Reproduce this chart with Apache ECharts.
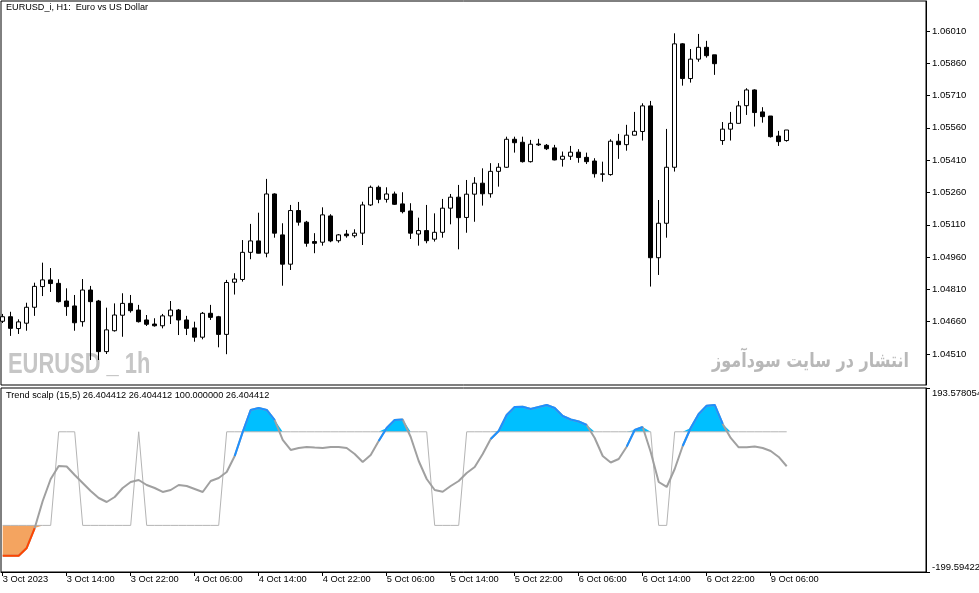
<!DOCTYPE html>
<html><head><meta charset="utf-8">
<script src="https://cdn.jsdelivr.net/npm/echarts@6/dist/echarts.min.js"></script>
<style>html,body{margin:0;padding:0;background:#fff}#c{width:979px;height:593px}</style>
</head><body><div id="c"></div>
<script>
const timeLabels = ["3 Oct 2023","3 Oct 14:00","3 Oct 22:00","4 Oct 06:00","4 Oct 14:00","4 Oct 22:00","5 Oct 06:00","5 Oct 14:00","5 Oct 22:00","6 Oct 06:00","6 Oct 14:00","6 Oct 22:00","9 Oct 06:00"];
const timeLabelIdx = [0,8,16,24,32,40,48,56,64,72,80,88,96];
const priceTicks = [1.04510,1.04660,1.04810,1.04960,1.05110,1.05260,1.05410,1.05560,1.05710,1.05860,1.06010];

const opens = [1.04662,1.04683,1.04628,1.04653,1.04727,1.04823,1.04854,1.04838,1.04756,1.04733,1.04660,1.04807,1.04756,1.04521,1.04618,1.04690,1.04745,1.04714,1.04668,1.04649,1.04641,1.04687,1.04714,1.04668,1.04631,1.04588,1.04699,1.04683,1.04601,1.04843,1.04856,1.04982,1.05035,1.04978,1.05253,1.05063,1.04927,1.05176,1.05122,1.05032,1.05029,1.05151,1.05036,1.05067,1.05059,1.05071,1.05202,1.05284,1.05228,1.05253,1.05207,1.05174,1.05067,1.05083,1.05043,1.05075,1.05187,1.05238,1.05144,1.05252,1.05303,1.05254,1.05358,1.05377,1.05507,1.05493,1.05403,1.05485,1.05479,1.05467,1.05414,1.05428,1.05447,1.05423,1.05406,1.05346,1.05343,1.05498,1.05482,1.05526,1.05543,1.05662,1.04957,1.05117,1.05377,1.05950,1.05789,1.05879,1.05934,1.05899,1.05501,1.05554,1.05581,1.05663,1.05736,1.05634,1.05615,1.05522,1.05501];
const closes = [1.04683,1.04629,1.04659,1.04727,1.04824,1.04854,1.04837,1.04753,1.04730,1.04655,1.04807,1.04753,1.04521,1.04622,1.04691,1.04745,1.04711,1.04660,1.04648,1.04641,1.04687,1.04714,1.04668,1.04629,1.04588,1.04699,1.04680,1.04601,1.04842,1.04858,1.04982,1.05035,1.04978,1.05253,1.05071,1.04927,1.05176,1.05122,1.05024,1.05024,1.05156,1.05035,1.05063,1.05059,1.05071,1.05202,1.05284,1.05228,1.05253,1.05205,1.05171,1.05071,1.05083,1.05036,1.05075,1.05187,1.05238,1.05143,1.05252,1.05303,1.05254,1.05358,1.05377,1.05507,1.05491,1.05403,1.05484,1.05481,1.05463,1.05411,1.05428,1.05447,1.05422,1.05403,1.05347,1.05345,1.05498,1.05482,1.05526,1.05544,1.05662,1.04957,1.05117,1.05377,1.05950,1.05789,1.05879,1.05934,1.05895,1.05858,1.05554,1.05581,1.05662,1.05736,1.05631,1.05612,1.05519,1.05496,1.05550];
const highs = [1.04696,1.04706,1.04671,1.04748,1.04841,1.04934,1.04909,1.04857,1.04815,1.04784,1.04858,1.04826,1.04761,1.04725,1.04745,1.04792,1.04784,1.04738,1.04691,1.04676,1.04696,1.04756,1.04719,1.04687,1.04660,1.04705,1.04738,1.04687,1.04854,1.04885,1.05039,1.05114,1.05166,1.05323,1.05256,1.05117,1.05202,1.05216,1.05128,1.05071,1.05191,1.05159,1.05067,1.05086,1.05089,1.05217,1.05292,1.05292,1.05284,1.05264,1.05261,1.05210,1.05143,1.05202,1.05163,1.05230,1.05253,1.05295,1.05318,1.05331,1.05372,1.05396,1.05396,1.05519,1.05519,1.05519,1.05504,1.05509,1.05485,1.05481,1.05450,1.05476,1.05461,1.05445,1.05419,1.05403,1.05507,1.05532,1.05574,1.05634,1.05674,1.05685,1.05225,1.05555,1.05999,1.05953,1.05926,1.05996,1.05964,1.05899,1.05587,1.05634,1.05685,1.05744,1.05739,1.05656,1.05615,1.05546,1.05550];
const lows = [1.04654,1.04594,1.04603,1.04618,1.04687,1.04779,1.04798,1.04749,1.04687,1.04618,1.04637,1.04482,1.04482,1.04510,1.04614,1.04590,1.04702,1.04656,1.04640,1.04637,1.04629,1.04649,1.04598,1.04598,1.04567,1.04578,1.04668,1.04541,1.04509,1.04786,1.04846,1.04950,1.04977,1.04959,1.05050,1.04827,1.04900,1.05106,1.05008,1.04978,1.05013,1.05029,1.05027,1.05050,1.05050,1.05016,1.05197,1.05210,1.05213,1.05202,1.05163,1.05044,1.05013,1.05024,1.05032,1.05050,1.05112,1.04996,1.05073,1.05124,1.05199,1.05236,1.05287,1.05374,1.05445,1.05399,1.05399,1.05476,1.05457,1.05409,1.05380,1.05411,1.05398,1.05392,1.05329,1.05310,1.05338,1.05416,1.05454,1.05525,1.05501,1.04823,1.04877,1.05050,1.05357,1.05756,1.05770,1.05867,1.05886,1.05806,1.05481,1.05501,1.05580,1.05620,1.05566,1.05584,1.05515,1.05476,1.05496];

const trendLine = [-164.8,-164.8,-164.8,-148.3,-105.6,-47.9,-0.9,26.9,25.9,7.7,-9.4,-26.5,-41.5,-50,-39.3,-20.1,-7.3,-3,-13.7,-20.1,-28.6,-24.4,-13.7,-15.8,-22.2,-28.6,-5.1,1.3,14.1,48.3,99.6,146.6,150.8,146.6,125.2,82.5,61.1,65.4,67.5,66.4,65.4,67.5,67.5,65.4,52.6,35.5,50.4,80.3,108.1,125.2,126.3,88.9,37.6,-0.9,-24.4,-28,-15.8,-5.1,12,24.8,52.6,84.6,101.7,135.9,153,153.6,148.7,153,157.3,150.8,133.8,126.3,122,114.5,86.8,48.3,34.4,41.9,68.2,103.8,110.2,56.8,-7.3,-17.9,20.5,69.7,108.1,138,155.8,157.3,116.7,86.8,66.9,66.9,68.6,65.4,59,46.2,26.404412];
const levelLine = [-100,-100,-100,-100,-100,-100,-100,100,100,100,-100,-100,-100,-100,-100,-100,-100,100,-100,-100,-100,-100,-100,-100,-100,-100,-100,-100,100,100,100,100,100,100,100,100,100,100,100,100,100,100,100,100,100,100,100,100,100,100,100,100,100,100,-100,-100,-100,-100,100,100,100,100,100,100,100,100,100,100,100,100,100,100,100,100,100,100,100,100,100,100,100,100,-100,-100,100,100,100,100,100,100,100,100,100,100,100,100,100,100,100];
const upSegments = [[29,34],[47,50],[61,73],[78,80],[85,90]];
const downSegments = [[0,4]];
const indMin = -199.594222, indMax = 193.578054;
const levelHi = 100, levelLo = -100;
const priceMin = 1.04366, priceMax = 1.06149;
const xMin = -0.2125, xMax = 115.4125;

const FONT = "'Liberation Sans', Arial, sans-serif";
function segData(segs){
  return trendLine.map((v,i)=> segs.some(s=>i>=s[0]&&i<=s[1]) ? [i,v] : [i,null]);
}
const chart = echarts.init(document.getElementById('c'), null, {renderer:'canvas'});
chart.setOption({
  animation:false,
  backgroundColor:'#fff',
  title:[
    {text:'EURUSD_i, H1:  Euro vs US Dollar', left:6, top:3, padding:0, textStyle:{fontSize:9.1, fontWeight:'normal', color:'#000', fontFamily:FONT}},
    {text:'Trend scalp (15,5) 26.404412 26.404412 100.000000 26.404412', left:6, top:391, padding:0, textStyle:{fontSize:9.2, fontWeight:'normal', color:'#000', fontFamily:FONT}}
  ],
  graphic:[
    {type:'text', x:8, y:350, scaleX:0.755, z:0, silent:true,
      style:{text:'EURUSD _ 1h', font:"bold 29px 'Liberation Sans', sans-serif", fill:'#c6c6c6', textVerticalAlign:'top'}},
    {type:'text', x:712, y:352, scaleX:0.80, z:0, silent:true,
      style:{text:'انتشار در سایت سودآموز', font:"bold 20px 'DejaVu Sans', sans-serif", fill:'#b8b8b8', textVerticalAlign:'top'}}
  ],
  grid:[
    {left:1, top:1, width:925, height:384, show:true, borderColor:'#000', borderWidth:1, backgroundColor:'transparent', outerBoundsMode:'none', containLabel:false},
    {left:1, top:388, width:925, height:184, show:true, borderColor:'#000', borderWidth:1, backgroundColor:'transparent', outerBoundsMode:'none', containLabel:false}
  ],
  xAxis:[
    {type:'value', gridIndex:0, min:xMin, max:xMax, show:false},
    {type:'value', gridIndex:1, min:xMin, max:xMax,
      axisLine:{show:true, onZero:false, lineStyle:{color:'#000'}},
      axisTick:{show:true, customValues:timeLabelIdx, length:4, inside:false, lineStyle:{color:'#000'}},
      axisLabel:{customValues:timeLabelIdx, formatter:v=>timeLabels[timeLabelIdx.indexOf(Math.round(v))], align:'left', margin:3, fontSize:9.3, color:'#000', fontFamily:FONT},
      splitLine:{show:false}}
  ],
  yAxis:[
    {type:'value', gridIndex:0, position:'right', min:priceMin, max:priceMax, scale:true,
      axisLine:{show:true, onZero:false, lineStyle:{color:'#000'}},
      axisTick:{show:true, customValues:priceTicks, length:4, inside:false, lineStyle:{color:'#000'}},
      axisLabel:{customValues:priceTicks, formatter:v=>v.toFixed(5), margin:6, fontSize:9.5, color:'#000', fontFamily:FONT},
      splitLine:{show:false}},
    {type:'value', gridIndex:1, position:'right', min:indMin, max:indMax,
      axisLine:{show:true, onZero:false, lineStyle:{color:'#000'}},
      axisTick:{show:true, customValues:[indMin, indMax], length:4, inside:false, lineStyle:{color:'#000'}},
      axisLabel:{customValues:[indMin, indMax], formatter:v=>v.toFixed(6), margin:6, fontSize:9.5, color:'#000', fontFamily:FONT,
        verticalAlignMinLabel:'bottom', verticalAlignMaxLabel:'top', showMinLabel:true, showMaxLabel:true},
      splitLine:{show:false}}
  ],
  series:[
    {type:'candlestick', xAxisIndex:0, yAxisIndex:0, barWidth:4,
      encode:{x:0, y:[1,2,3,4]},
      data: opens.map((o,i)=>[i,o,closes[i],lows[i],highs[i]]),
      itemStyle:{color:'#fff', color0:'#000', borderColor:'#000', borderColor0:'#000', borderColorDoji:'#000', borderWidth:1}},
    {type:'line', xAxisIndex:1, yAxisIndex:1, symbol:'none', silent:true, z:1,
      data: trendLine.map((v,i)=>[i, Math.max(v, levelHi)]),
      lineStyle:{width:0, opacity:0}, areaStyle:{color:'#00BFFF', opacity:1, origin:levelHi}},
    {type:'line', xAxisIndex:1, yAxisIndex:1, symbol:'none', silent:true, z:1,
      data: trendLine.map((v,i)=>[i, Math.min(v, levelLo)]),
      lineStyle:{width:0, opacity:0}, areaStyle:{color:'#F4A460', opacity:1, origin:levelLo}},
    {type:'line', xAxisIndex:1, yAxisIndex:1, symbol:'none', silent:true, z:3,
      data: levelLine.map((v,i)=>[i,v]), lineStyle:{color:'#b4b4b4', width:1}},
    {type:'line', xAxisIndex:1, yAxisIndex:1, symbol:'none', silent:true, z:4,
      data: trendLine.map((v,i)=>[i,v]), lineStyle:{color:'#a0a0a0', width:2}},
    {type:'line', xAxisIndex:1, yAxisIndex:1, symbol:'none', silent:true, z:5, connectNulls:false,
      data: segData(upSegments), lineStyle:{color:'#1E90FF', width:2}},
    {type:'line', xAxisIndex:1, yAxisIndex:1, symbol:'none', silent:true, z:5, connectNulls:false,
      data: segData(downSegments), lineStyle:{color:'#FF4500', width:2}}
  ]
});
</script>
</body></html>
